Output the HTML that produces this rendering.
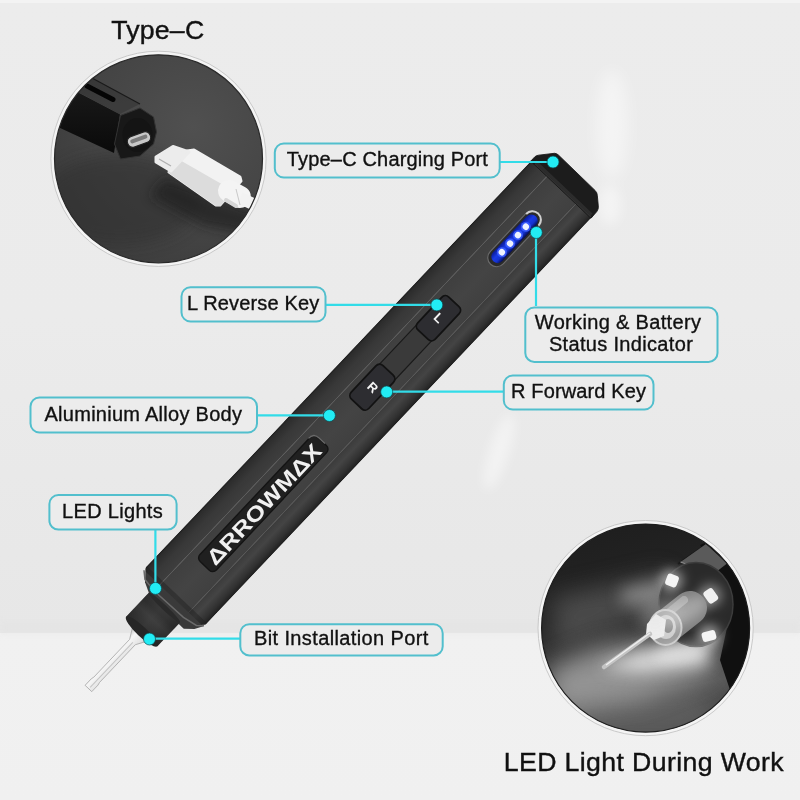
<!DOCTYPE html>
<html><head><meta charset="utf-8">
<style>
html,body{margin:0;padding:0;width:800px;height:800px;overflow:hidden;background:#e9e9e9;}
svg{display:block;}
text{font-family:"Liberation Sans",sans-serif;}
</style></head>
<body>
<svg width="800" height="800" viewBox="0 0 800 800">
<defs>
  <linearGradient id="bgTop" x1="0" y1="0" x2="0" y2="1">
    <stop offset="0" stop-color="#ececec"/>
    <stop offset="0.5" stop-color="#ebebeb"/>
    <stop offset="1" stop-color="#e7e7e7"/>
  </linearGradient>
  <linearGradient id="bgBot" x1="0" y1="0" x2="0" y2="1">
    <stop offset="0" stop-color="#f1f1f1"/>
    <stop offset="1" stop-color="#f0f0f0"/>
  </linearGradient>
  <!-- pen gradients (local y direction) -->
  <linearGradient id="ulBand" x1="0" y1="0" x2="0" y2="1">
    <stop offset="0" stop-color="#1e1e1e"/>
    <stop offset="0.1" stop-color="#2c2c2c"/>
    <stop offset="0.5" stop-color="#383838"/>
    <stop offset="1" stop-color="#3e3e3e"/>
  </linearGradient>
  <linearGradient id="face" x1="0" y1="0" x2="0" y2="1">
    <stop offset="0" stop-color="#3f3f3f"/>
    <stop offset="0.5" stop-color="#444444"/>
    <stop offset="1" stop-color="#404040"/>
  </linearGradient>
  <linearGradient id="lrBand" x1="0" y1="0" x2="0" y2="1">
    <stop offset="0" stop-color="#3b3b3b"/>
    <stop offset="0.35" stop-color="#444444"/>
    <stop offset="0.75" stop-color="#313131"/>
    <stop offset="1" stop-color="#1f1f1f"/>
  </linearGradient>
  <radialGradient id="c1bg" cx="0.65" cy="0.35" r="0.8">
    <stop offset="0" stop-color="#505050"/>
    <stop offset="0.6" stop-color="#444444"/>
    <stop offset="1" stop-color="#393939"/>
  </radialGradient>
  <linearGradient id="c2bg" x1="0.3" y1="0" x2="0.5" y2="1">
    <stop offset="0" stop-color="#1e1e1e"/>
    <stop offset="0.4" stop-color="#252525"/>
    <stop offset="0.55" stop-color="#343434"/>
    <stop offset="0.8" stop-color="#585858"/>
    <stop offset="1" stop-color="#3e3e3e"/>
  </linearGradient>
  <linearGradient id="silver" x1="0" y1="0" x2="0" y2="1">
    <stop offset="0" stop-color="#b4b4b4"/>
    <stop offset="0.35" stop-color="#f6f6f6"/>
    <stop offset="0.7" stop-color="#e4e4e4"/>
    <stop offset="1" stop-color="#c0c0c0"/>
  </linearGradient>
  <filter id="blur8" x="-50%" y="-50%" width="200%" height="200%"><feGaussianBlur stdDeviation="8"/></filter>
  <filter id="blur6" x="-50%" y="-50%" width="200%" height="200%"><feGaussianBlur stdDeviation="6"/></filter>
  <filter id="blur3" x="-50%" y="-50%" width="200%" height="200%"><feGaussianBlur stdDeviation="3"/></filter>
  <linearGradient id="sideFace" x1="0" y1="0" x2="0" y2="1">
    <stop offset="0" stop-color="#2a2a2a"/>
    <stop offset="0.3" stop-color="#181818"/>
    <stop offset="1" stop-color="#0a0a0a"/>
  </linearGradient>
  <filter id="blur12" x="-50%" y="-50%" width="200%" height="200%"><feGaussianBlur stdDeviation="12"/></filter>
  <linearGradient id="topFace" x1="0" y1="0" x2="0.3" y2="1">
    <stop offset="0" stop-color="#2a2a2a"/>
    <stop offset="0.5" stop-color="#363636"/>
    <stop offset="1" stop-color="#3c3c3c"/>
  </linearGradient>
  <linearGradient id="collar" x1="0" y1="0" x2="0" y2="1">
    <stop offset="0" stop-color="#262626"/>
    <stop offset="0.45" stop-color="#3a3a3a"/>
    <stop offset="0.7" stop-color="#333333"/>
    <stop offset="1" stop-color="#1e1e1e"/>
  </linearGradient>
  <clipPath id="bodyClip"><rect x="0" y="-41.8" width="580" height="83" rx="5"/></clipPath>
  <linearGradient id="ledBlue" x1="0" y1="0" x2="0" y2="1">
    <stop offset="0" stop-color="#0a1a90"/>
    <stop offset="0.4" stop-color="#1a3ae6"/>
    <stop offset="0.7" stop-color="#1533d0"/>
    <stop offset="1" stop-color="#050c50"/>
  </linearGradient>
  <linearGradient id="collarX" x1="0" y1="0" x2="1" y2="0">
    <stop offset="0" stop-color="#2a2a2a"/>
    <stop offset="0.3" stop-color="#3a3a3a"/>
    <stop offset="0.5" stop-color="#474747"/>
    <stop offset="0.75" stop-color="#333333"/>
    <stop offset="1" stop-color="#3a3a3a"/>
  </linearGradient>
  <clipPath id="cl1"><circle cx="158.5" cy="158.8" r="104"/></clipPath>
  <clipPath id="cl2"><circle cx="645.6" cy="628.1" r="104"/></clipPath>
</defs>

<!-- background -->
<rect x="0" y="0" width="800" height="633" fill="url(#bgTop)"/>
<rect x="0" y="633" width="800" height="167" fill="url(#bgBot)"/>
<rect x="0" y="0" width="800" height="3" fill="#f3f3f3"/>
<rect x="0" y="622" width="800" height="11" fill="#e2e2e2" opacity="0.5" filter="url(#blur3)"/>
<g fill="#ffffff" opacity="0.45">
  <ellipse cx="612" cy="125" rx="16" ry="55" filter="url(#blur8)"/>
  <ellipse cx="610" cy="205" rx="11" ry="20" filter="url(#blur6)"/>
  <ellipse cx="499" cy="452" rx="10" ry="40" transform="rotate(18 499 452)" filter="url(#blur6)"/>
</g>

<!-- top-left circle -->
<circle cx="158.5" cy="158.8" r="107.6" fill="#f4f4f4" stroke="#c4c4c4" stroke-width="0.9"/>
<g clip-path="url(#cl1)">
  <rect x="50" y="50" width="220" height="220" fill="url(#c1bg)"/>
  <!-- shadows -->
  <ellipse cx="120" cy="200" rx="80" ry="45" fill="#2e2e2e" opacity="0.55" filter="url(#blur8)"/>
  <polygon points="165,178 235,205 268,214 262,236 205,226 150,196" fill="#1c1c1c" opacity="0.65" filter="url(#blur6)"/>
  <!-- pen -->
  <polygon points="30,50 92,78 140,104 120,114 78,92 30,70" fill="url(#topFace)"/>
  <polygon points="30,67 78,92 120,114 114,153 58,127 30,113" fill="url(#sideFace)"/>
  <path d="M30,50 L92,78 L140,104" fill="none" stroke="#1a1a1a" stroke-width="1.2"/>
  <path d="M30,67 L78,92 L120,114" fill="none" stroke="#3e3e3e" stroke-width="1"/>
  <path d="M120.5,115.5 L140,108 L153.5,117 L156.5,132 L153.5,144 L140,156 L120.5,159 L114.5,144 Z" fill="#181818" stroke="#333" stroke-width="1"/>
  <ellipse cx="137.5" cy="135" rx="15" ry="17" fill="#141414"/>
  <rect x="127" y="134" width="24" height="11" rx="5" transform="rotate(-20 139 139.5)" fill="#c8c8c8" stroke="#222" stroke-width="1.2"/>
  <rect x="130" y="137" width="18" height="4" rx="2" transform="rotate(-20 139 139.5)" fill="#7a7a7a"/>
  <line x1="87" y1="86" x2="113" y2="99.5" stroke="#050505" stroke-width="5" stroke-linecap="round"/>
  <!-- plug -->
  <g stroke-linejoin="round">
  <polygon points="169,172 187,151 194,150 240,177 241,181 220,205 216,205" fill="#f2f2f2" stroke="#f2f2f2" stroke-width="3"/>
  <polygon points="169,172 216,205 220,205 232,191 178,160" fill="#dcdcdc" stroke="#dcdcdc" stroke-width="2"/>
  <polygon points="156,157 173,146.5 189,152 171,171 156,162" fill="#ececec" stroke="#ececec" stroke-width="3"/>
  <line x1="159" y1="159" x2="171" y2="166" stroke="#b0b0b0" stroke-width="1.3"/>
  </g>
  <line x1="229" y1="191" x2="240" y2="197" stroke="#f4f4f4" stroke-width="22" stroke-linecap="round"/>
  <line x1="226" y1="200" x2="236" y2="206" stroke="#d6d6d6" stroke-width="4" stroke-linecap="round"/>
  <line x1="240" y1="198" x2="266" y2="210" stroke="#f2f2f2" stroke-width="12"/>
  <line x1="236" y1="189" x2="240" y2="205" stroke="#c8c8c8" stroke-width="1"/>
</g>

<circle cx="158.5" cy="158.8" r="104" fill="none" stroke="#2a2a2a" stroke-width="1.2"/>

<!-- bottom-right circle -->
<circle cx="645.6" cy="628.1" r="107.6" fill="#f4f4f4" stroke="#c4c4c4" stroke-width="0.9"/>
<g clip-path="url(#cl2)">
  <rect x="538" y="520" width="220" height="220" fill="url(#c2bg)"/>
  <!-- haze -->
  <path d="M700,690 L560,690 L560,745 L730,745 Z" fill="#6a6a6a" opacity="0.6" filter="url(#blur12)"/>
  <path d="M668,572 L552,598 L556,650 L664,606 Z" fill="#6a6a6a" opacity="0.55" filter="url(#blur12)"/>
  <path d="M668,578 L620,590 L624,606 L665,600 Z" fill="#b0b0b0" opacity="0.6" filter="url(#blur8)"/>
  <path d="M706,634 L600,646 L548,668 L552,712 L640,700 L712,672 Z" fill="#a6a6a6" opacity="0.8" filter="url(#blur12)"/>
  <path d="M708,642 L640,652 L600,668 L640,672 L708,664 Z" fill="#e6e6e6" opacity="0.85" filter="url(#blur8)"/>
  <!-- pen body -->
  <path d="M700,545 L712,540 L770,540 L770,720 L735,705 L720,660 L733,600 Z" fill="#101010"/>
  <path d="M678,564 L720,535" stroke="#141414" stroke-width="1.8"/>
  <polygon points="680.5,562 706,544 727,563.5 713.5,574" fill="#5a5a5a"/>
  <path d="M680.5,562 L713.5,574" stroke="#8a8a8a" stroke-width="1.2"/>
  <!-- end face -->
  <ellipse cx="696" cy="604.5" rx="37" ry="42" fill="#2a2a2a" stroke="#3c3c3c" stroke-width="1.5"/>
  <!-- LEDs -->
  <g filter="url(#blur6)">
    <circle cx="671.5" cy="580.5" r="11" fill="#fff" opacity="0.55"/>
    <circle cx="710.5" cy="595.5" r="11" fill="#fff" opacity="0.45"/>
    <circle cx="709" cy="636" r="11" fill="#fff" opacity="0.55"/>
  </g>
  <rect x="666" y="574.5" width="12" height="12" rx="3" fill="#f4f4f4" transform="rotate(20 672 580.5)"/>
  <rect x="705" y="589" width="11" height="14" rx="3" fill="#f0f0f0" transform="rotate(-35 710.5 595.5)"/>
  <rect x="702" y="631" width="14" height="10" rx="3" fill="#f4f4f4" transform="rotate(-15 709 636)"/>
  <!-- collar cylinder -->
  <line x1="666" y1="627" x2="690" y2="608" stroke="#7f7f7f" stroke-width="34" stroke-linecap="round"/>
  <line x1="662" y1="618" x2="684" y2="600" stroke="#b0b0b0" stroke-width="8" stroke-linecap="round" opacity="0.7"/>
  <ellipse cx="665.5" cy="627.5" rx="16" ry="17.5" fill="#9c9c9c" stroke="#c8c8c8" stroke-width="2"/>
  <ellipse cx="666" cy="627" rx="10" ry="12" fill="#cfcfcf"/>
  <ellipse cx="668" cy="626" rx="5" ry="7" fill="#8a8a8a"/>
  <!-- bit holder -->
  <polygon points="647,624 656,614 666,620 664,636 654,640 646,634" fill="#eeeeee"/>
  <!-- bit -->
  <line x1="650" y1="634" x2="604" y2="667" stroke="#c4c4c4" stroke-width="4.5" stroke-linecap="round"/>
  <line x1="650" y1="633" x2="606" y2="665" stroke="#f0f0f0" stroke-width="1.4"/>
  <ellipse cx="685" cy="612" rx="26" ry="11" transform="rotate(-30 685 612)" fill="#fff" opacity="0.3" filter="url(#blur6)"/>
  <ellipse cx="660" cy="612" rx="22" ry="14" transform="rotate(-25 660 612)" fill="#e0e0e0" opacity="0.35" filter="url(#blur8)"/>
  <ellipse cx="680" cy="652" rx="26" ry="8" transform="rotate(-12 680 652)" fill="#f0f0f0" opacity="0.45" filter="url(#blur6)"/>
</g>

<circle cx="645.6" cy="628.1" r="104" fill="none" stroke="#1e1e1e" stroke-width="1.2"/>

<!-- main pen -->
<g transform="translate(173.75,598.5) rotate(-46.53)">
  <!-- bit -->
  <path d="M-46,-12 L-60,-3.9 L-112,-3.9 L-115,-4.6 L-124,-4.6 L-124,4.6 L-115,4.6 L-112,3.9 L-60,3.9 L-46,12 Z" fill="url(#silver)" stroke="#a8a8a8" stroke-width="0.8"/>
  <line x1="-60" y1="0.5" x2="-122" y2="0.5" stroke="#c4c4c4" stroke-width="1"/>
  <!-- recess + collar -->
  <path d="M1,-40 L-8,-32 L-15,-18 L-15,28 L-8,36 L1,41 Z" fill="#3a3a3a"/>
  <path d="M0,-41 L-6,-34 L-8,-20 L-7,20 L-4,35 L1,40.5" fill="none" stroke="#6a6a6a" stroke-width="1.5"/>
  <rect x="-46" y="-22" width="33" height="43" fill="url(#collarX)"/>
  <rect x="-46" y="-22" width="33" height="43" fill="url(#collar)" opacity="0.55"/>
  <ellipse cx="-13" cy="-0.5" rx="2.5" ry="21.5" fill="#2a2a2a"/>
  <ellipse cx="-46" cy="-0.5" rx="5" ry="21.5" fill="#262626"/>
  <!-- body -->
  <g clip-path="url(#bodyClip)">
  <rect x="0" y="-41.8" width="566" height="22.3" fill="url(#ulBand)"/>
  <rect x="0" y="-19.5" width="566" height="40" fill="url(#face)"/>
  <rect x="0" y="20.5" width="566" height="20.7" fill="url(#lrBand)"/>
  <line x1="0" y1="-19.5" x2="566" y2="-19.5" stroke="#5c5c5c" stroke-width="0.9"/>
  <line x1="0" y1="20.5" x2="566" y2="20.5" stroke="#565656" stroke-width="0.9"/>
  <rect x="0" y="-42" width="5" height="85" fill="#222" opacity="0.5"/>
  </g>
  <!-- cap -->
  <path d="M563,-41.8 L569,-41.8 Q571,-41.8 573,-40 L585,-30 Q586.5,-28.5 586.5,-26 L586,25 Q586,28 584,30 L577,38 Q575,40.5 572,40.8 L563,41.2 Z" fill="#1c1c1c" stroke="#161616" stroke-width="0.8"/>
  <path d="M566,-38 L566,39" stroke="#2c2c2c" stroke-width="3"/>
  <path d="M564,-37 L564,40" stroke="#333" stroke-width="1.2"/>
  <g transform="rotate(-0.25)">
  <!-- plate -->
  <rect x="45" y="-11" width="171" height="22.5" rx="5" fill="#202020" stroke="#141414" stroke-width="1.4"/>
  <path d="M209,-11.5 Q216.5,-11.5 216.5,-4 L216.5,4" fill="none" stroke="#6a6a6a" stroke-width="1.2"/>
  <text x="130.5" y="8.5" font-size="21" font-weight="bold" fill="#f0f0f0" text-anchor="middle" textLength="157" lengthAdjust="spacingAndGlyphs">ΔRROWMΔX</text>
  <!-- track -->
  <rect x="298" y="-10.5" width="80" height="22" rx="3" fill="#3a3a3a" stroke="#1a1a1a" stroke-width="1.2"/>
  <!-- buttons -->
  <rect x="267" y="-12" width="46" height="24" rx="5" fill="#2d2d31" stroke="#121212" stroke-width="1.8"/>
  <rect x="363" y="-11" width="45" height="24" rx="5" fill="#2d2d31" stroke="#121212" stroke-width="1.8"/>
  <text x="0" y="4.5" font-size="13" font-weight="bold" fill="#f4f4f4" text-anchor="middle" transform="translate(290,0.5) rotate(90)">R</text>
  <text x="0" y="4.5" font-size="13" font-weight="bold" fill="#f4f4f4" text-anchor="middle" transform="translate(386,1) rotate(90)">L</text>
  <!-- LED window -->
  <rect x="460.5" y="-7" width="70" height="18" rx="9" fill="#2a2a2a" stroke="#6a6a6a" stroke-width="1.2"/>
  <path d="M521.5,-6.5 A8.5,8.5 0 0 1 521.5,10.5" stroke="#d0d0d0" stroke-width="2" fill="none"/>
  <rect x="464.5" y="-4.5" width="62" height="13" rx="6.5" fill="url(#ledBlue)"/>
  <g fill="#3a5cff" opacity="0.9">
    <circle cx="477" cy="2" r="5"/><circle cx="489" cy="2" r="5"/><circle cx="500.5" cy="2" r="5"/><circle cx="512" cy="2" r="5"/>
  </g>
  <g fill="#eef2ff">
    <circle cx="477" cy="2" r="3.2"/><circle cx="489" cy="2" r="3.2"/><circle cx="500.5" cy="2" r="3.2"/><circle cx="512" cy="2" r="3.2"/>
  </g>
  </g>
</g>

<!-- connectors -->
<g stroke="#32dce8" stroke-width="2.2" fill="none">
  <line x1="500" y1="162" x2="553" y2="162"/>
  <line x1="326" y1="304.9" x2="436.8" y2="304.9"/>
  <line x1="536" y1="232.5" x2="536" y2="306"/>
  <line x1="386.7" y1="391.6" x2="504" y2="391.6"/>
  <line x1="257" y1="415.3" x2="329.4" y2="415.3"/>
  <line x1="155.4" y1="530" x2="155.4" y2="588.4"/>
  <line x1="149.5" y1="638.7" x2="240" y2="638.7"/>
</g>
<g fill="#22ecf4" stroke="#0c4a52" stroke-width="0.7">
  <circle cx="553" cy="162" r="6"/>
  <circle cx="436.8" cy="304.9" r="6"/>
  <circle cx="536.3" cy="232.5" r="6"/>
  <circle cx="386.7" cy="391.9" r="6"/>
  <circle cx="329.4" cy="415.5" r="6"/>
  <circle cx="155.5" cy="588.4" r="6"/>
  <circle cx="149.5" cy="639" r="6"/>
</g>

<!-- label boxes -->
<g fill="#ececec" stroke="#52bfcd" stroke-width="2">
  <rect x="274.8" y="143.5" width="224.9" height="34.0" rx="9"/>
  <rect x="181.5" y="287.2" width="144.0" height="34.3" rx="9"/>
  <rect x="525.3" y="307.5" width="192.2" height="54.4" rx="9"/>
  <rect x="503.8" y="375.5" width="149.7" height="34.0" rx="9"/>
  <rect x="30.5" y="397.5" width="226.5" height="35.0" rx="9"/>
  <rect x="49.4" y="495.0" width="127.2" height="34.6" rx="9"/>
  <rect x="240.3" y="624.2" width="202.4" height="31.2" rx="9"/>
</g>

<!-- label text -->
<g font-size="20" fill="#111" stroke="#111" stroke-width="0.35">
  <text x="286.8" y="166.2" letter-spacing="0.17">Type–C Charging Port</text>
  <text x="187.0" y="309.5" letter-spacing="0.15">L Reverse Key</text>
  <text x="534.8" y="329.3" letter-spacing="0.33">Working &amp; Battery</text>
  <text x="548.9" y="351.0" letter-spacing="0.33">Status Indicator</text>
  <text x="511.0" y="397.5" letter-spacing="0.14">R Forward Key</text>
  <text x="44.5" y="420.5" letter-spacing="0.27">Aluminium Alloy Body</text>
  <text x="62.1" y="517.6" letter-spacing="0.31">LED Lights</text>
  <text x="254.0" y="645.1" letter-spacing="0.38">Bit Installation Port</text>
</g>
<g font-size="26.7" fill="#111" stroke="#111" stroke-width="0.4">
  <text x="111.2" y="38.8" letter-spacing="0.2">Type–C</text>
  <text x="503.75" y="770.75" letter-spacing="0.375">LED Light During Work</text>
</g>
</svg>
</body></html>
